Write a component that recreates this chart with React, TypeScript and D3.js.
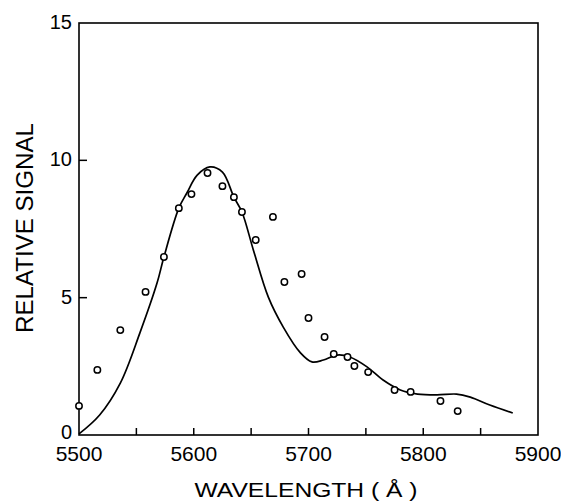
import React from "react";
import * as d3 from "d3";

const pointWavelengths = [5500, 5516, 5536, 5558, 5574, 5587, 5598, 5612, 5625, 5635, 5642, 5654, 5669, 5679, 5694, 5700, 5714, 5722, 5734, 5740, 5752, 5775, 5789, 5815, 5830];
const pointSignals = [1.06, 2.37, 3.82, 5.21, 6.48, 8.26, 8.77, 9.54, 9.06, 8.66, 8.12, 7.10, 7.94, 5.57, 5.86, 4.26, 3.57, 2.95, 2.84, 2.51, 2.29, 1.64, 1.57, 1.24, 0.87];

const curveWavelengths = [5500, 5518, 5536, 5553, 5568, 5574, 5587, 5594, 5603, 5614, 5625, 5635, 5642, 5652, 5665, 5678, 5693, 5703, 5713, 5725, 5736, 5751, 5765, 5780, 5795, 5812, 5829, 5841, 5858, 5878];
const curveSignals = [0.04, 0.73, 1.89, 3.71, 5.53, 6.48, 8.26, 8.81, 9.46, 9.76, 9.57, 8.66, 8.12, 6.73, 5.02, 3.93, 2.99, 2.66, 2.73, 2.91, 2.84, 2.48, 2.0, 1.64, 1.49, 1.46, 1.49, 1.38, 1.09, 0.80];

const xTickValues = [5500, 5600, 5700, 5800, 5900];
const xMinorTicks = [5550, 5600, 5650, 5700, 5750, 5800, 5850];
const yTickValues = [0, 5, 10, 15];
const yInnerTicks = [5, 10];

const xLabel = "WAVELENGTH ( Å )";
const yLabel = "RELATIVE SIGNAL";

export default function App() {
  const W = 561, H = 501;
  const left = 79, right = 538, top = 23, bottom = 435;
  const x = d3.scaleLinear().domain([5500, 5900]).range([left, right]);
  const y = d3.scaleLinear().domain([0, 15]).range([bottom, top]);
  const line = d3
    .line<number>()
    .x((d, i) => x(curveWavelengths[i]))
    .y((d) => y(d))
    .curve(d3.curveCatmullRom.alpha(0.5));
  const font = "'Liberation Sans', Arial, sans-serif";
  return (
    <svg width={W} height={H} style={{ position: "absolute", left: 0, top: 0, background: "#fff" }}>
      <rect x={left} y={top} width={right - left} height={bottom - top} fill="none" stroke="#000" strokeWidth={1.6} />
      {xMinorTicks.map((t) => (
        <line key={"xt" + t} x1={x(t)} x2={x(t)} y1={bottom} y2={bottom - 7} stroke="#000" strokeWidth={1.5} />
      ))}
      {yInnerTicks.map((t) => (
        <line key={"yt" + t} x1={left} x2={left + 8} y1={y(t)} y2={y(t)} stroke="#000" strokeWidth={1.5} />
      ))}
      {xTickValues.map((t) => (
        <text key={"xl" + t} x={x(t)} y={461} textAnchor="middle" fontFamily={font} fontSize={21} fill="#000">
          {t}
        </text>
      ))}
      {yTickValues.map((t) => (
        <text key={"yl" + t} x={72} y={y(t) + (t === 0 ? 4 : 6)} textAnchor="end" fontFamily={font} fontSize={20} fill="#000">
          {t}
        </text>
      ))}
      <text x={306} y={497} textAnchor="middle" fontFamily={font} fontSize={20} textLength={223} lengthAdjust="spacingAndGlyphs" fill="#000">
        {xLabel}
      </text>
      <text
        transform={`translate(33,228) rotate(-90)`}
        textAnchor="middle"
        fontFamily={font}
        fontSize={23}
        textLength={210}
        lengthAdjust="spacingAndGlyphs"
        fill="#000"
      >
        {yLabel}
      </text>
      <path d={line(curveSignals) || ""} fill="none" stroke="#000" strokeWidth={1.7} />
      {pointSignals.map((v, i) => (
        <circle key={"p" + i} cx={x(pointWavelengths[i])} cy={y(v)} r={3.2} fill="#fff" stroke="#000" strokeWidth={1.5} />
      ))}
    </svg>
  );
}
